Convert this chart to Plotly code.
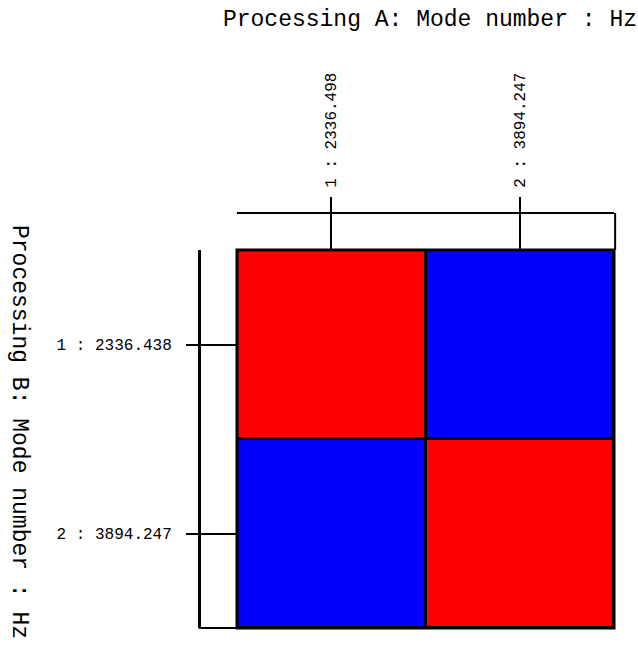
import plotly.graph_objects as go

# ---- data ----
modes_a = [1, 2]
modes_b = [1, 2]
labels_a = ["1 : 2336.498", "2 : 3894.247"]
labels_b = ["1 : 2336.438", "2 : 3894.247"]
mac = [[1.0, 0.0],
       [0.0, 1.0]]
title_a = "Processing A: Mode number : Hz"
title_b = "Processing B: Mode number : Hz"

W, H = 638, 648
ML, MR, MT, MB = 10, 10, 10, 10
PW, PH = W - ML - MR, H - MT - MB


def px_x(p):
    return (p - ML) / PW


def px_y(p):
    return (H - MB - p) / PH


mono = "Liberation Mono, DejaVu Sans Mono, monospace"

xa = list(range(len(modes_a)))
yb = list(range(len(modes_b)))

fig = go.Figure()
fig.add_trace(go.Heatmap(
    x=xa, y=yb, z=mac,
    colorscale=[[0, "#0000ff"], [1, "#ff0000"]],
    zmin=0, zmax=1, showscale=False, xgap=3, ygap=3,
    hoverinfo="skip",
))
# invisible trace so the overlaid tick axes get drawn
fig.add_trace(go.Scatter(x=xa, y=yb, xaxis="x2", yaxis="y2", mode="markers",
                         marker=dict(opacity=0), hoverinfo="skip", showlegend=False))

xdom = [px_x(237), px_x(614)]
ydom = [px_y(628), px_y(250)]
top_pos = px_y(213)
left_pos = px_x(199)
xr = [xa[0] - 0.5, xa[-1] + 0.5]
yr = [yb[-1] + 0.5, yb[0] - 0.5]

fig.update_layout(
    width=W, height=H,
    margin=dict(l=ML, r=MR, t=MT, b=MB),
    paper_bgcolor="white", plot_bgcolor="black",
    showlegend=False,
    font=dict(family=mono, color="black"),
    title=dict(text=title_a, font=dict(family=mono, size=23, color="black"),
               xref="container", yref="container", x=637 / W, xanchor="right",
               y=1 - 18 / H, yanchor="middle"),
    xaxis=dict(domain=xdom, anchor="free", position=top_pos, side="top",
               range=xr, tickmode="array", tickvals=xa, ticktext=labels_a,
               tickangle=-90, ticks="outside", ticklen=15, tickwidth=1.5, tickcolor="black",
               ticklabelstandoff=6,
               showline=True, linecolor="black", linewidth=2, showgrid=False, zeroline=False,
               tickfont=dict(family=mono, size=16, color="black")),
    yaxis=dict(domain=ydom, anchor="free", position=left_pos, side="left",
               range=yr, tickmode="array", tickvals=yb, ticktext=labels_b,
               ticks="outside", ticklen=12, tickwidth=1.5, tickcolor="black",
               ticklabelstandoff=11,
               showline=True, linecolor="black", linewidth=3, showgrid=False, zeroline=False,
               tickfont=dict(family=mono, size=16, color="black")),
    xaxis2=dict(overlaying="x", anchor="y", side="top", range=xr, domain=xdom,
                tickmode="array", tickvals=xa, showticklabels=False,
                ticks="outside", ticklen=37, tickwidth=1.5, tickcolor="black",
                showline=False, showgrid=False, zeroline=False),
    yaxis2=dict(overlaying="y", anchor="x", side="left", range=yr, domain=ydom,
                tickmode="array", tickvals=yb, showticklabels=False,
                ticks="outside", ticklen=38, tickwidth=1.5, tickcolor="black",
                showline=False, showgrid=False, zeroline=False),
)

# matrix border
fig.add_shape(type="rect", xref="x domain", yref="y domain", x0=0, x1=1, y0=0, y1=1,
              line=dict(color="black", width=3))
# top axis bracket (right end down to matrix)
fig.add_shape(type="line", xref="x domain", yref="paper", x0=1.003, x1=1.003,
              y0=ydom[1], y1=top_pos, line=dict(color="black", width=2))
# left axis bracket (bottom end over to matrix)
fig.add_shape(type="line", xref="paper", yref="y domain", x0=left_pos, x1=xdom[0],
              y0=0, y1=0, line=dict(color="black", width=2))

# left title, reading top to bottom
fig.add_annotation(text=title_b, textangle=90, xref="paper", yref="paper",
                   x=px_x(19), y=px_y(432), xanchor="center", yanchor="middle",
                   showarrow=False,
                   font=dict(family=mono, size=23, color="black"))

fig.write_html("out.html")
